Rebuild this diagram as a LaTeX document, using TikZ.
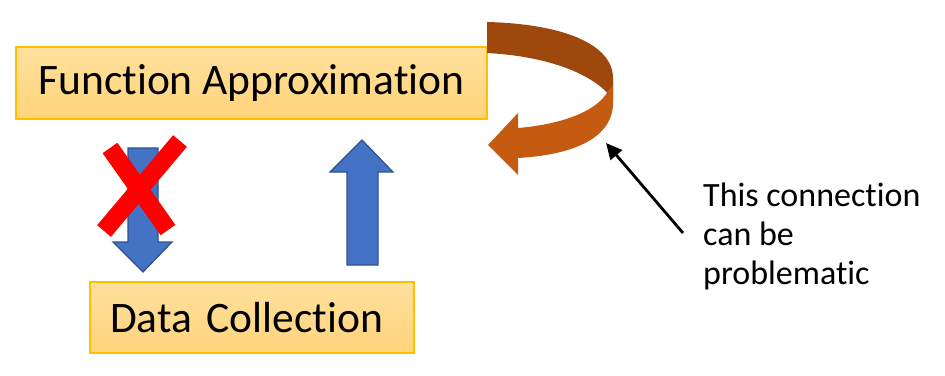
\documentclass[tikz,border=0pt]{standalone}
\usepackage{fontspec}
\setmainfont{Carlito}[Ligatures=NoCommon]
\usetikzlibrary{arrows.meta}
\definecolor{boxtop}{RGB}{255,224,158}
\definecolor{boxbot}{RGB}{255,212,122}
\definecolor{boxline}{RGB}{255,192,0}
\definecolor{blueA}{RGB}{68,114,196}
\definecolor{blueB}{RGB}{47,82,143}
\definecolor{darkor}{RGB}{158,72,14}
\definecolor{lightor}{RGB}{197,90,17}
\tikzset{
  boxnode/.style={draw=boxline, line width=1.2pt, top color=boxtop, bottom color=boxbot,
    inner sep=0pt, font=\fontsize{43.5}{50}\selectfont},
  bluearrow/.style={fill=blueA, draw=blueB, line width=1.2pt, line join=miter},
  crossline/.style={draw=red, line width=18pt},
  note/.style={align=left, inner sep=0pt, font=\fontsize{34}{39}\selectfont},
}
\begin{document}
\begin{tikzpicture}[x=1pt,y=-1pt]
\useasboundingbox (0,0) rectangle (945,375);
% boxes
\node[boxnode, minimum width=471pt, minimum height=72pt] (fa) at (251.5,83) {Function Approximation};
\node[boxnode, minimum height=71pt, text width=284pt, inner xsep=20pt, align=left] (dc) at (252,317.5) {Data Collection};
% down arrow (crossed out)
\path[bluearrow] (128,148) -- (158,148) -- (158,242) -- (172,242) -- (143,272) -- (113,242) -- (128,242) -- cycle;
% red cross
\draw[crossline] (110,148) -- (168,230);
\draw[crossline] (180,141) -- (104,231);
% up arrow
\path[bluearrow] (347,265) -- (347,172) -- (330,172) -- (362,140) -- (393,172) -- (378,172) -- (378,265) -- cycle;
% curved arrow (back part)
\fill[darkor] (487,22) .. controls (565,24) and (613,45) .. (613,78) -- (613,100)
  .. controls (600,80) and (560,57) .. (487,53) -- cycle;
% curved arrow (front part)
\fill[lightor] (608,91) .. controls (611,88) and (613,86) .. (613,84) -- (613,105)
  .. controls (611,140) and (570,155) .. (518,158) -- (518,175) -- (488,145) -- (518,113) -- (518,128)
  .. controls (565,124) and (598,110) .. (608,91) -- cycle;
% annotation
\node[note, anchor=north west] (txt) at (703,183) {This connection\\can be\\problematic};
\coordinate (tail) at (683,233);
\coordinate (tip) at (606,143);
\draw[line width=2.8pt, -{Triangle[length=16pt,width=15pt]}] (tail) -- (tip);
\end{tikzpicture}
\end{document}
